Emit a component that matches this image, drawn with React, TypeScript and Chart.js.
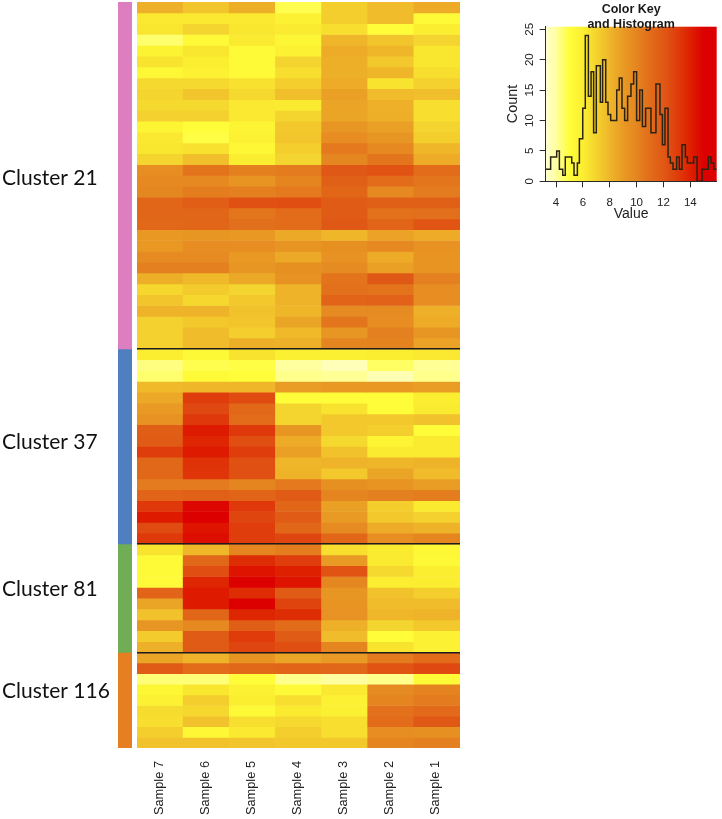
import React, { useEffect, useRef } from "react";
import { Chart, registerables } from "chart.js";

Chart.register(...registerables);

const samples = ["Sample 7", "Sample 6", "Sample 5", "Sample 4", "Sample 3", "Sample 2", "Sample 1"];

const cluster21 = [
  [8.2, 7.5, 8.3, 4.8, 7.2, 7.8, 8.4],
  [6.2, 6.2, 6.2, 5.8, 7.2, 7.8, 5.2],
  [6.3, 7.0, 6.3, 6.1, 6.6, 5.0, 6.0],
  [4.5, 5.2, 6.1, 5.5, 8.0, 7.5, 7.0],
  [5.7, 6.3, 5.2, 5.8, 8.4, 8.0, 6.3],
  [6.4, 6.0, 5.2, 7.0, 8.3, 7.4, 6.3],
  [5.4, 5.8, 5.2, 6.6, 8.3, 8.0, 6.6],
  [6.8, 6.8, 6.5, 7.2, 8.4, 6.4, 7.1],
  [7.0, 7.5, 6.8, 7.7, 8.8, 7.8, 7.7],
  [6.8, 6.8, 6.2, 6.1, 8.6, 8.2, 6.6],
  [7.1, 7.1, 6.2, 7.0, 8.6, 8.3, 6.6],
  [5.6, 5.0, 5.6, 7.4, 9.2, 8.8, 7.0],
  [6.2, 4.9, 5.8, 7.5, 9.6, 9.2, 7.2],
  [6.3, 6.5, 5.4, 7.2, 10.5, 9.8, 8.0],
  [7.0, 7.7, 6.0, 7.0, 9.9, 10.6, 8.4],
  [9.6, 10.7, 10.2, 10.4, 12.0, 12.2, 11.0],
  [9.8, 9.8, 9.3, 10.0, 11.6, 11.0, 10.6],
  [9.9, 10.3, 10.2, 10.5, 11.3, 9.8, 10.4],
  [11.3, 11.7, 12.3, 12.4, 11.8, 11.6, 11.6],
  [11.3, 11.3, 10.6, 11.0, 11.8, 10.8, 10.9],
  [11.2, 11.3, 10.9, 11.0, 12.0, 11.4, 12.1],
  [9.1, 9.2, 9.1, 8.5, 8.0, 8.7, 8.4],
  [9.1, 9.6, 9.6, 9.3, 9.5, 9.8, 9.4],
  [9.7, 9.7, 9.1, 8.5, 9.4, 8.4, 9.3],
  [10.2, 10.2, 9.2, 9.5, 9.7, 8.8, 9.3],
  [8.3, 7.9, 8.5, 9.4, 10.7, 12.0, 10.2],
  [6.9, 7.3, 7.0, 8.1, 10.8, 10.7, 9.6],
  [7.5, 6.9, 7.4, 8.1, 11.4, 11.5, 9.6],
  [8.1, 8.1, 7.6, 8.0, 9.7, 9.7, 8.2],
  [7.1, 7.4, 7.5, 8.6, 10.6, 9.6, 8.4],
  [7.1, 7.8, 7.2, 7.9, 9.2, 10.2, 9.2],
  [7.1, 7.8, 8.3, 8.2, 10.0, 10.1, 8.7],
];

const cluster37 = [
  [6.0, 5.3, 6.4, 5.9, 5.9, 6.0, 6.2],
  [4.3, 4.8, 4.9, 4.0, 3.6, 4.6, 4.1],
  [4.5, 5.2, 5.0, 4.2, 4.1, 3.7, 4.2],
  [7.9, 8.0, 8.0, 8.9, 9.1, 9.1, 8.9],
  [8.5, 13.0, 12.5, 5.0, 5.0, 5.1, 6.0],
  [9.0, 12.6, 11.2, 7.0, 6.4, 5.0, 6.1],
  [9.4, 13.2, 11.0, 7.0, 7.4, 7.4, 7.6],
  [11.7, 14.2, 13.2, 9.2, 7.4, 7.2, 5.0],
  [11.8, 13.8, 12.4, 8.4, 6.8, 5.6, 6.1],
  [13.0, 14.2, 13.0, 8.8, 7.6, 6.1, 6.1],
  [11.2, 13.4, 12.3, 8.0, 8.1, 8.0, 8.1],
  [11.2, 13.3, 12.3, 8.1, 7.4, 8.6, 7.8],
  [10.4, 10.4, 10.0, 10.5, 9.5, 9.3, 8.9],
  [11.4, 11.6, 11.4, 11.8, 10.0, 10.2, 10.3],
  [13.2, 14.8, 13.2, 11.3, 8.8, 7.2, 6.1],
  [14.2, 15.5, 12.7, 11.8, 9.0, 7.4, 7.1],
  [12.5, 14.4, 13.0, 11.3, 9.7, 8.4, 8.1],
  [13.2, 14.6, 13.0, 12.7, 11.3, 9.6, 10.0],
];

const cluster81 = [
  [6.4, 8.0, 10.0, 10.3, 6.6, 6.1, 5.4],
  [5.2, 11.2, 13.6, 13.0, 9.0, 6.1, 5.3],
  [5.2, 12.4, 14.4, 14.0, 12.2, 6.8, 6.0],
  [5.2, 13.8, 15.6, 14.4, 9.9, 6.0, 6.0],
  [11.4, 14.2, 13.6, 11.8, 9.2, 7.6, 7.2],
  [8.6, 14.2, 15.0, 12.8, 9.3, 7.8, 7.8],
  [7.6, 11.3, 13.8, 13.6, 9.4, 8.0, 8.1],
  [9.2, 9.8, 11.7, 11.0, 8.2, 7.0, 7.4],
  [7.3, 11.8, 13.1, 11.8, 7.8, 5.0, 5.8],
  [8.2, 11.8, 12.7, 12.4, 10.0, 6.4, 5.8],
];

const cluster116 = [
  [8.6, 8.1, 9.3, 8.6, 9.0, 10.4, 11.0],
  [11.8, 11.0, 11.2, 11.4, 11.2, 12.2, 12.6],
  [4.4, 4.4, 5.0, 4.2, 4.0, 4.2, 5.2],
  [5.5, 6.3, 5.8, 5.2, 6.2, 9.7, 10.1],
  [5.8, 7.2, 6.0, 6.6, 5.8, 10.0, 10.4],
  [6.7, 6.9, 5.3, 6.1, 5.9, 10.8, 11.1],
  [6.6, 7.6, 6.6, 6.8, 6.6, 11.0, 12.0],
  [7.2, 5.4, 6.2, 7.2, 6.6, 9.6, 9.5],
  [7.6, 7.6, 7.5, 7.4, 7.4, 10.0, 10.2],
];

const clusterNames = ["Cluster 21", "Cluster 37", "Cluster 81", "Cluster 116"];
const clusterColors = ["#DC7EC0", "#4F7FBE", "#70AD55", "#E67E22"];
const clusterLabelRows = [16.3, 40.6, 54.2, 63.6];

const histEdges = [
  3.23, 3.6, 4.05, 4.25, 4.5, 4.69, 5.17, 5.34, 5.59, 5.74, 5.99, 6.18, 6.41, 6.61, 6.8, 7.0, 7.3, 7.47,
  7.7, 7.87, 8.07, 8.52, 8.71, 8.91, 9.11, 9.33, 9.58, 9.78, 10.0, 10.23, 10.43, 10.67, 11.07, 11.44,
  11.74, 11.92, 12.11, 12.34, 12.51, 12.71, 12.98, 13.18, 13.38, 13.63, 13.78, 14.25, 14.5, 14.87, 15.34,
  15.54, 15.74, 15.96,
];
const histCounts = [
  2, 4, 5, 2, 1, 4, 3, 1, 3, 7, 12, 24, 14, 18, 8, 19, 13, 20, 13, 11, 10, 15, 17, 12, 10, 14, 16, 18, 10,
  15, 9, 12, 8, 16, 11, 6, 12, 4, 3, 2, 4, 2, 6, 4, 3, 4, 0, 2, 4, 3, 2,
];
const histXTicks = [4, 6, 8, 10, 12, 14];
const histYTicks = [0, 5, 10, 15, 20, 25];

const rampValues = [3.23, 4, 5, 6, 7, 8, 9, 10, 11, 12, 13, 14, 15, 15.96];
const rampColors = [
  [255, 255, 208], [255, 255, 160], [255, 253, 58], [251, 238, 48], [244, 212, 46], [239, 182, 42],
  [233, 154, 36], [229, 133, 32], [226, 108, 26], [224, 88, 21], [223, 62, 12], [222, 32, 0], [221, 0, 0],
  [219, 0, 0],
];

function heatColor(v: number): string {
  let i = 0;
  while (i < rampValues.length - 2 && v > rampValues[i + 1]) i++;
  const t = Math.min(1, Math.max(0, (v - rampValues[i]) / (rampValues[i + 1] - rampValues[i])));
  const c = rampColors[i].map((a, k) => Math.round(a + (rampColors[i + 1][k] - a) * t));
  return `rgb(${c[0]},${c[1]},${c[2]})`;
}

const allRows = [...cluster21, ...cluster37, ...cluster81, ...cluster116];
const clusterSizes = [cluster21.length, cluster37.length, cluster81.length, cluster116.length];
const lastClusterStart = allRows.length - cluster116.length;
const rowEdge = (i: number) => (i <= lastClusterStart ? i : lastClusterStart + (i - lastClusterStart) * 0.98);
const yMax = rowEdge(allRows.length);
const clusterEnds = clusterSizes.slice(0, 3).map((_, i) => clusterSizes.slice(0, i + 1).reduce((a, b) => a + b, 0));

function useChart(make: (c: HTMLCanvasElement) => Chart) {
  const ref = useRef<HTMLCanvasElement | null>(null);
  useEffect(() => {
    const chart = make(ref.current!);
    return () => chart.destroy();
  }, []);
  return ref;
}

const SANS = "'Liberation Sans', Arial, sans-serif";
const INK = "#2a2a2a";

function makeSide(c: HTMLCanvasElement) {
  let prev = 0;
  const datasets = clusterSizes.map((n, i) => {
    const lo = rowEdge(prev);
    prev += n;
    return { data: [[lo, rowEdge(prev)]], backgroundColor: clusterColors[i], barPercentage: 1, categoryPercentage: 1, grouped: false };
  });
  return new Chart(c, {
    type: "bar",
    data: { labels: ["clusters"], datasets: datasets as any },
    options: {
      animation: false,
      responsive: false,
      layout: { padding: { top: 2, bottom: 71, left: 2, right: 1 } },
      plugins: { legend: { display: false }, tooltip: { enabled: false } },
      scales: {
        x: { display: false },
        y: {
          reverse: true,
          min: 0,
          max: yMax,
          grid: { display: false },
          border: { display: false },
          afterBuildTicks: (s: any) => {
            s.ticks = clusterLabelRows.map((value) => ({ value }));
          },
          afterFit: (s: any) => {
            s.width = 116;
            s.paddingTop = 0;
            s.paddingBottom = 0;
          },
          ticks: {
            autoSkip: false,
            crossAlign: "far",
            padding: 0,
            color: "#111",
            font: { family: "Lato, 'Open Sans', sans-serif", size: 21 },
            callback: (_: any, i: number) => clusterNames[i],
          },
        },
      },
    },
  } as any);
}

function makeHeat(c: HTMLCanvasElement) {
  const datasets = allRows.map((row, r) => ({
    data: row.map(() => [rowEdge(r), rowEdge(r + 1)]),
    backgroundColor: row.map(heatColor),
    barPercentage: 1,
    categoryPercentage: 1,
    grouped: false,
    borderWidth: 0,
  }));
  return new Chart(c, {
    type: "bar",
    data: { labels: samples, datasets: datasets as any },
    options: {
      animation: false,
      responsive: false,
      layout: { padding: { top: 2, left: 4, right: 13, bottom: 0 } },
      plugins: { legend: { display: false }, tooltip: { enabled: false } },
      scales: {
        x: {
          grid: { display: false },
          border: { display: false },
          afterFit: (s: any) => {
            s.height = 71;
          },
          ticks: {
            autoSkip: false,
            minRotation: 90,
            maxRotation: 90,
            padding: 5,
            labelOffset: -1,
            color: "#222",
            font: { family: SANS, size: 12.8 },
          },
        },
        y: {
          reverse: true,
          min: 0,
          max: yMax,
          border: { display: false },
          afterBuildTicks: (s: any) => {
            s.ticks = clusterEnds.map((value) => ({ value }));
          },
          afterFit: (s: any) => {
            s.width = 0;
          },
          grid: { color: "#1c1c1c", lineWidth: 1.5, drawTicks: false, z: 1 },
          ticks: { display: false },
        },
      },
    },
  } as any);
}

const keyBackground = {
  id: "keyBackground",
  beforeDraw(chart: any) {
    const { ctx, chartArea, scales } = chart;
    const x0 = scales.x.getPixelForValue(rampValues[0]);
    const x1 = scales.x.getPixelForValue(rampValues[rampValues.length - 1]);
    const g = ctx.createLinearGradient(x0, 0, x1, 0);
    rampValues.forEach((v) => {
      g.addColorStop((v - rampValues[0]) / (rampValues[rampValues.length - 1] - rampValues[0]), heatColor(v));
    });
    ctx.save();
    ctx.fillStyle = g;
    ctx.fillRect(chartArea.left, chartArea.top, chartArea.right - chartArea.left, chartArea.bottom - chartArea.top);
    ctx.restore();
  },
};

function makeHist(c: HTMLCanvasElement) {
  const points = histEdges.map((x, i) => ({ x, y: histCounts[Math.min(i, histCounts.length - 1)] }));
  return new Chart(c, {
    type: "line",
    data: {
      datasets: [{ data: points, stepped: "before", borderColor: "#2b2415", borderWidth: 1.5, pointRadius: 0, fill: false }],
    },
    plugins: [keyBackground],
    options: {
      animation: false,
      responsive: false,
      layout: { padding: { top: 0, left: 0, right: 5.33, bottom: 0 } },
      plugins: {
        legend: { display: false },
        tooltip: { enabled: false },
        title: {
          display: true,
          fullSize: false,
          text: ["Color Key", "and Histogram"],
          color: "#1a1a1a",
          font: { family: SANS, size: 12.5, weight: "bold", lineHeight: 1.2 },
          padding: { top: 2, bottom: -5.3 },
        },
      },
      scales: {
        x: {
          type: "linear",
          min: histEdges[0],
          max: histEdges[histEdges.length - 1],
          afterBuildTicks: (s: any) => {
            s.ticks = histXTicks.map((value) => ({ value }));
          },
          afterFit: (s: any) => {
            s.height = 43.7;
          },
          grid: { drawOnChartArea: false, color: INK, tickLength: 6 },
          border: { color: INK, width: 1 },
          ticks: { padding: 9, color: "#222", font: { family: SANS, size: 11.5 } },
          title: { display: true, text: "Value", color: "#222", font: { family: SANS, size: 14 }, padding: { top: 0, bottom: 2 } },
        },
        y: {
          min: 0,
          max: 25.43,
          afterBuildTicks: (s: any) => {
            s.ticks = histYTicks.map((value) => ({ value }));
          },
          afterFit: (s: any) => {
            s.width = 55.67;
          },
          grid: { drawOnChartArea: false, color: INK, tickLength: 6 },
          border: { color: INK, width: 1 },
          ticks: { minRotation: 90, maxRotation: 90, crossAlign: "center", padding: 3.5, color: "#222", font: { family: SANS, size: 11.5 } },
          title: { display: true, text: "Count", color: "#222", font: { family: SANS, size: 14.4 }, padding: { top: 14, bottom: 0 } },
        },
      },
    },
  } as any);
}

export default function App() {
  const side = useChart(makeSide);
  const heat = useChart(makeHeat);
  const hist = useChart(makeHist);
  const abs = (left: number, top: number): React.CSSProperties => ({ position: "absolute", left, top, display: "block" });
  return (
    <div style={{ position: "absolute", left: 0, top: 0, width: 722, height: 819, background: "#fff", overflow: "hidden" }}>
      <canvas ref={side} width={133} height={819} style={abs(0, 0)} />
      <canvas ref={heat} width={340} height={819} style={abs(133, 0)} />
      <canvas ref={hist} width={232} height={225} style={abs(490, 0)} />
    </div>
  );
}
